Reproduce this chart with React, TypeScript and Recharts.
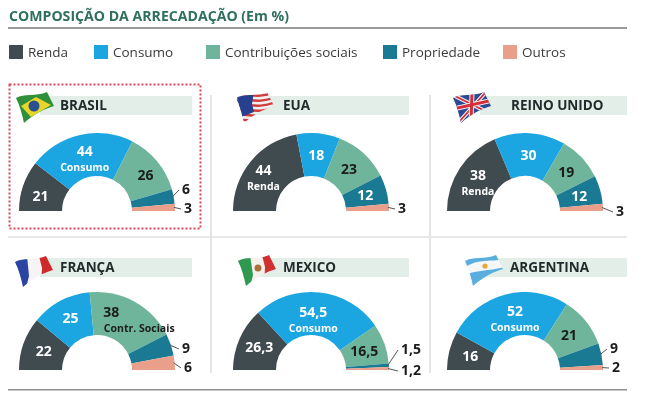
import { PieChart, Pie } from "recharts";

const categories = ["Renda", "Consumo", "Contribuições sociais", "Propriedade", "Outros"];
const colors = ["#3f4b4f", "#1ba6e2", "#6fb59b", "#1b7a93", "#e99f89"];

const countries = ["BRASIL", "EUA", "REINO UNIDO", "FRANÇA", "MEXICO", "ARGENTINA"];
const brasil = [21, 44, 26, 6, 3];
const eua = [44, 18, 23, 12, 3];
const reinoUnido = [38, 30, 19, 12, 3];
const franca = [22, 25, 38, 9, 6];
const mexico = [26.3, 54.5, 16.5, 1.5, 1.2];
const argentina = [16, 52, 21, 9, 2];
const values = [brasil, eua, reinoUnido, franca, mexico, argentina];

// caption under the number, per country: [category index, text]
const captions: [number, string][] = [
  [1, "Consumo"],
  [0, "Renda"],
  [0, "Renda"],
  [2, "Contr. Sociais"],
  [1, "Consumo"],
  [1, "Consumo"],
];

const FONT = "'Open Sans', sans-serif";
const centers = [
  { cx: 97, cy: 211 },
  { cx: 311, cy: 211 },
  { cx: 525, cy: 211 },
  { cx: 97, cy: 370 },
  { cx: 311, cy: 370 },
  { cx: 525, cy: 370 },
];
const titleX = [60, 283, 511, 60, 283, 510];
const bands = [
  { x: 40, y: 96, w: 152 },
  { x: 255, y: 96, w: 154 },
  { x: 480, y: 96, w: 147 },
  { x: 40, y: 258, w: 152 },
  { x: 255, y: 258, w: 154 },
  { x: 480, y: 258, w: 147 },
];
const flagPos = [
  [16, 92],
  [236, 92],
  [453, 92],
  [15, 256],
  [238, 255],
  [465, 255],
];
const legendPos = [
  [9, 28],
  [94, 113],
  [206, 225],
  [383, 402],
  [503, 522],
];

// where the small slices put their number, relative to the pie center
function calloutAt(country: number, cat: number): [number, number] {
  if (country === 4) return cat === 3 ? [100, -21] : [100, 0];
  if (country === 2) return [95, 0];
  return cat === 3 ? [89, -22] : [91, -3];
}

function nudge(country: number, cat: number): [number, number] {
  if (country === 0 && cat === 0) return [-3, 3];
  if (country === 0 && cat === 2) return [5, 0];
  if (country === 1 && cat === 0) return [-4, 0];
  if (country === 4 && cat === 1) return [-4, 3];
  if (country === 5 && cat === 1) return [4, 1];
  if (country === 3 && cat === 2) return [-13, -3];
  if (country === 3 && cat === 1) return [0, -2];
  return [0, 0];
}

const RAD = Math.PI / 180;

function makeLabel(country: number) {
  return (props: any) => {
    const { cx, cy, midAngle, innerRadius, outerRadius, value, index } = props;
    const text = String(value).replace(".", ",");
    const cos = Math.cos(midAngle * RAD);
    const sin = Math.sin(midAngle * RAD);
    if (value < 10) {
      const [tx, ty] = calloutAt(country, index);
      const ex = tx - (text.length > 1 ? 13 : 7);
      return (
        <g>
          <line
            x1={cx + (outerRadius - 1) * cos}
            y1={cy - (outerRadius - 1) * sin}
            x2={cx + ex}
            y2={cy + ty + 1}
            stroke="#555"
            strokeWidth={1}
          />
          <text x={cx + tx} y={cy + ty + 5} textAnchor="middle" fontFamily={FONT} fontWeight={700} fontSize={14} fill="#1c1c1c">
            {text}
          </text>
        </g>
      );
    }
    const r = (innerRadius + outerRadius) / 2;
    const [dx, dy] = nudge(country, index);
    const x = cx + r * cos + dx;
    const y = cy - r * sin + dy;
    const fill = index === 2 ? "#1c1c1c" : "#fff";
    const hasCaption = captions[country][0] === index;
    if (!hasCaption) {
      return (
        <text x={x} y={y + 5} textAnchor="middle" fontFamily={FONT} fontWeight={700} fontSize={14} fill={fill}>
          {text}
        </text>
      );
    }
    const capDx = country === 3 ? 28 : 0;
    return (
      <g>
        <text x={x} y={y} textAnchor="middle" fontFamily={FONT} fontWeight={700} fontSize={14} fill={fill}>
          {text}
        </text>
        <text x={x + capDx} y={y + 15} textAnchor="middle" fontFamily={FONT} fontWeight={700} fontSize={10.5} fill={fill}>
          {captions[country][1]}
        </text>
      </g>
    );
  };
}

const WAVE = "M0 6 C8 1 20 5 31 0 L38 14 C28 17 18 22 8 31 C6 22 4 14 0 6 Z";

function Flag({ i }: { i: number }) {
  const [x, y] = flagPos[i];
  const content = [
    <g key="br">
      <rect width="40" height="32" fill="#2f8f3a" />
      <path d="M5 14 L20 5 L35 13 L15 25 Z" fill="#e8d52a" />
      <circle cx="18" cy="14" r="5.5" fill="#2a4f8f" />
    </g>,
    <g key="us">
      <rect width="40" height="32" fill="#f2f0ee" />
      {[0, 5, 10, 15, 20, 25, 30].map((d) => (
        <path key={d} d={`M0 ${d + 4} C10 ${d} 20 ${d + 8} 40 ${d}`} stroke="#cf3d3d" strokeWidth={2.4} fill="none" />
      ))}
      <path d="M0 0 H18 L16 12 L18 20 L5 25 Z" fill="#26408f" />
    </g>,
    <g key="uk">
      <rect width="40" height="32" fill="#2a4a94" />
      <path d="M0 3 L38 22 M33 0 L6 30" stroke="#f2eeee" strokeWidth={4} />
      <path d="M0 3 L38 22 M33 0 L6 30" stroke="#d22f3a" strokeWidth={1.8} />
      <path d="M19 0 L18 32 M0 17 L40 8" stroke="#f2eeee" strokeWidth={5} />
      <path d="M19 0 L18 32 M0 17 L40 8" stroke="#d22f3a" strokeWidth={3} />
    </g>,
    <g key="fr">
      <rect width="40" height="32" fill="#f6f4f4" />
      <path d="M0 0 H12 L14 20 L11 32 H0 Z" fill="#2a44a4" />
      <path d="M24 0 H40 V32 H26 L27 12 Z" fill="#cf2a2a" />
    </g>,
    <g key="mx">
      <rect width="40" height="32" fill="#f4f1ec" />
      <path d="M0 0 H12 L15 20 L12 32 H0 Z" fill="#2f9a4f" />
      <path d="M24 0 H40 V32 H26 L27 12 Z" fill="#cf3030" />
      <circle cx="20" cy="13" r="3.5" fill="#a8703a" />
    </g>,
    <g key="ar">
      <rect width="40" height="32" fill="#f5f7f8" />
      <path d="M0 0 H40 V4 C28 7 14 3 0 12 Z" fill="#5aaede" />
      <path d="M0 20 C10 15 26 16 40 12 V32 H0 Z" fill="#5aaede" />
      <circle cx="20" cy="11" r="2.6" fill="#e8a83a" />
    </g>,
  ];
  return (
    <g transform={`translate(${x},${y})`}>
      <clipPath id={`flag-${i}`}>
        <path d={WAVE} />
      </clipPath>
      <g clipPath={`url(#flag-${i})`}>{content[i]}</g>
    </g>
  );
}

export default function App() {
  return (
    <div style={{ position: "fixed", left: 0, top: 0, width: 650, height: 400, background: "#fff", filter: "blur(0.5px)" }}>
      <svg width={650} height={400} style={{ position: "absolute", left: 0, top: 0 }}>
        <text x={9} y={21} fontFamily={FONT} fontWeight={700} fontSize={15} fill="#2f6f5e" textLength={280} lengthAdjust="spacingAndGlyphs">
          COMPOSIÇÃO DA ARRECADAÇÃO (Em %)
        </text>
        <rect x={8} y={27} width={619} height={2} fill="#9a9a9a" />
        {categories.map((c, i) => (
          <g key={c}>
            <rect x={legendPos[i][0]} y={45} width={14} height={14} fill={colors[i]} />
            <text x={legendPos[i][1]} y={57} fontFamily={FONT} fontSize={13.5} fill="#3a3a3a">
              {c}
            </text>
          </g>
        ))}
        <rect x={9.5} y={84.5} width={191} height={144} fill="none" stroke="#d9485c" strokeWidth={2} strokeDasharray="2 2" />
        <line x1={211} y1={95} x2={211} y2={373} stroke="#dcdcdc" strokeWidth={1.5} />
        <line x1={430} y1={95} x2={430} y2={373} stroke="#dcdcdc" strokeWidth={1.5} />
        <line x1={8} y1={237} x2={627} y2={237} stroke="#e2e2e2" strokeWidth={1.5} />
        <rect x={8} y={389} width={619} height={1.5} fill="#8f8f8f" />
        {bands.map((b, i) => (
          <g key={countries[i]}>
            <rect x={b.x} y={b.y} width={b.w} height={19} fill="#e3eee8" />
            <text x={titleX[i]} y={b.y + 14} fontFamily={FONT} fontWeight={700} fontSize={13.5} fill="#1f2a2a">
              {countries[i]}
            </text>
            <Flag i={i} />
          </g>
        ))}
      </svg>
      <div style={{ position: "absolute", left: 0, top: 0 }}>
        <PieChart width={650} height={400} margin={{ top: 0, right: 0, bottom: 0, left: 0 }}>
          {values.map((vals, i) => (
            <Pie
              key={countries[i]}
              data={vals.map((v, j) => ({ name: categories[j], value: v, fill: colors[j] }))}
              dataKey="value"
              nameKey="name"
              cx={centers[i].cx}
              cy={centers[i].cy}
              innerRadius={35}
              outerRadius={78}
              startAngle={180}
              endAngle={0}
              stroke="none"
              label={makeLabel(i)}
              labelLine={false}
              isAnimationActive={false}
            />
          ))}
        </PieChart>
      </div>
    </div>
  );
}
